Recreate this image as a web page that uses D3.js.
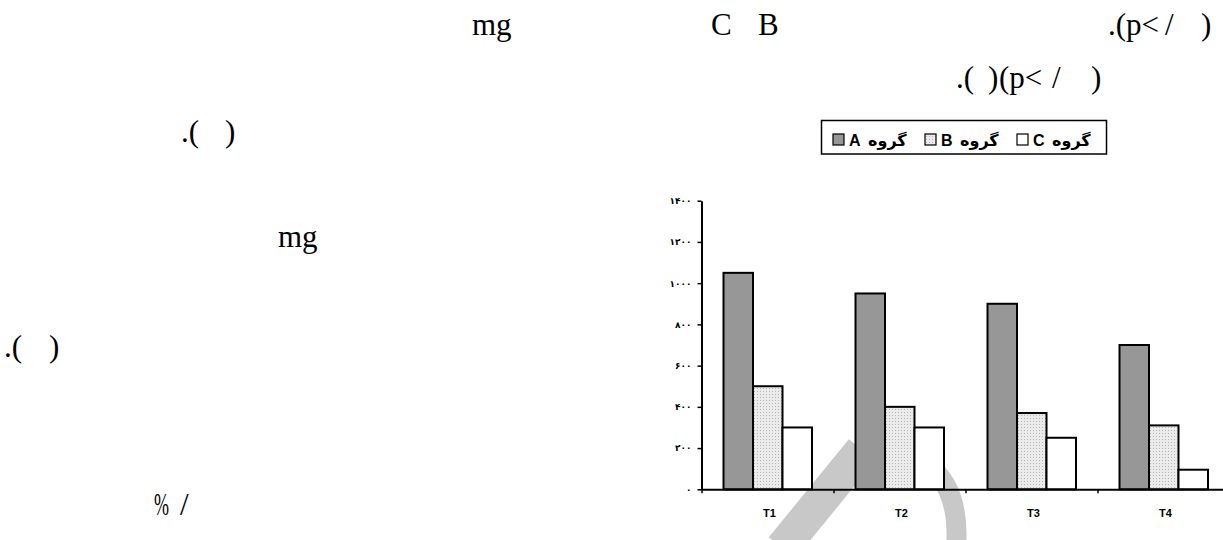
<!DOCTYPE html>
<html lang="fa">
<head>
  <meta charset="UTF-8">
  <title>گروه A / B / C - T1..T4</title>
  <script src="https://d3js.org/d3.v7.min.js"></script>
  <style>
    body { margin: 0; background: #fff; overflow: hidden; }
    .page { font-family: "Liberation Serif", "Times New Roman", serif; font-size: 31px; fill: #000; white-space: pre; }
  </style>
</head>
<body>
  <div id="chart"></div>

  <script>
    // Chart data
    const categories = ["T1", "T2", "T3", "T4"];
    const seriesNames = ["گروه A", "گروه B", "گروه C"];
    const groupA = [1050, 950, 900, 700];
    const groupB = [500, 400, 370, 310];
    const groupC = [300, 300, 250, 95];
    const yTicks = [0, 200, 400, 600, 800, 1000, 1200, 1400];
    const yTickLabels = ["۰", "۲۰۰", "۴۰۰", "۶۰۰", "۸۰۰", "۱۰۰۰", "۱۲۰۰", "۱۴۰۰"];

    const series = [groupA, groupB, groupC];
    const fills = ["#979797", "url(#dots)", "#ffffff"];

    const svg = d3.select("#chart").append("svg")
      .attr("width", 1223)
      .attr("height", 540);

    // dotted fill for group B
    const pat = svg.append("defs").append("pattern")
      .attr("id", "dots")
      .attr("width", 3).attr("height", 3)
      .attr("patternUnits", "userSpaceOnUse");
    pat.append("rect").attr("width", 3).attr("height", 3).attr("fill", "#ebebeb");
    pat.append("rect").attr("x", 1).attr("y", 1).attr("width", 1).attr("height", 1).attr("fill", "#b5b5b5");

    // --- surrounding page text (the scan) ---
    const pageText = [
      ["mg", 472, 35], ["C", 711, 35], ["B", 758, 35],
      [".(p<", 1108, 35], ["/", 1165, 35], [")", 1201, 35],
      [".(", 956, 88], [")", 988, 88], ["(p<", 999, 88], ["/", 1052, 88], [")", 1091, 88],
      [".(", 181, 142], [")", 225, 142],
      ["mg", 278, 247],
      [".(", 4, 357], [")", 49, 357],
      ["/", 180, 515]
    ];
    const pg = svg.append("g");
    pg.selectAll("text")
      .data(pageText)
      .join("text")
      .attr("class", "page")
      .attr("x", (d) => d[1])
      .attr("y", (d) => d[2])
      .text((d) => d[0]);
    // the percent sign is set narrow in the scan
    pg.append("text")
      .attr("class", "page")
      .attr("x", 154).attr("y", 515)
      .attr("textLength", 15)
      .attr("lengthAdjust", "spacingAndGlyphs")
      .text("%");

    // --- watermark, light grey, behind the chart ---
    const wm = svg.append("g").attr("fill", "none").attr("stroke", "#c8c8c8");
    wm.append("line")
      .attr("x1", 782).attr("y1", 548).attr("x2", 862).attr("y2", 450)
      .attr("stroke-width", 34);
    const arcPath = d3.path();
    arcPath.moveTo(902, 452);
    arcPath.quadraticCurveTo(962, 470, 956, 548);
    wm.append("path").attr("d", arcPath.toString()).attr("stroke-width", 20);

    // --- scales ---
    const x0 = 701.5, step = 132;
    const x = d3.scaleBand()
      .domain(categories)
      .range([x0, x0 + step * categories.length]);
    const xSub = d3.scaleBand()
      .domain(d3.range(series.length))
      .range([22, 22 + 88.5]);
    const y = d3.scaleLinear()
      .domain([0, 1400])
      .range([489.3, 200.7]);

    // --- bars ---
    const barG = svg.append("g");
    series.forEach((vals, s) => {
      barG.append("g").selectAll("rect")
        .data(vals)
        .join("rect")
        .attr("x", (d, i) => x(categories[i]) + xSub(s))
        .attr("y", (d) => y(d))
        .attr("width", xSub.bandwidth())
        .attr("height", (d) => y(0) - y(d))
        .attr("fill", fills[s])
        .attr("stroke", "#000")
        .attr("stroke-width", 2);
    });

    // --- y axis ---
    const yAxis = svg.append("g")
      .attr("transform", `translate(${x0},0)`)
      .call(d3.axisLeft(y)
        .tickValues(yTicks)
        .tickFormat((d, i) => yTickLabels[i])
        .tickSize(4)
        .tickSizeOuter(0)
        .tickPadding(6));
    yAxis.select(".domain").attr("stroke-width", 2);
    yAxis.selectAll(".tick line").attr("stroke-width", 1.5);
    yAxis.selectAll(".tick text")
      .attr("font-family", "'DejaVu Sans', sans-serif")
      .attr("font-weight", "bold")
      .attr("font-size", 9);

    // --- x axis: boundary ticks + category labels ---
    const xEdge = d3.scaleLinear().domain([0, categories.length]).range(x.range());
    const xAxis = svg.append("g")
      .attr("transform", `translate(0,${y(0)})`)
      .call(d3.axisBottom(xEdge).ticks(categories.length).tickSize(4).tickSizeOuter(0).tickFormat(""));
    xAxis.select(".domain").attr("stroke-width", 2);
    xAxis.selectAll(".tick line").attr("stroke-width", 1.5);

    const xLabels = svg.append("g")
      .attr("transform", `translate(2,${y(0)})`)
      .call(d3.axisBottom(x).tickSize(0).tickPadding(20));
    xLabels.select(".domain").remove();
    xLabels.selectAll(".tick text")
      .attr("font-family", "'Liberation Sans', Arial, sans-serif")
      .attr("font-weight", "bold")
      .attr("font-size", 11)
      .attr("fill", "#000");

    // --- legend ---
    const legend = svg.append("g");
    legend.append("rect")
      .attr("x", 821.5).attr("y", 120.5)
      .attr("width", 285).attr("height", 33.5)
      .attr("fill", "#fff")
      .attr("stroke", "#000")
      .attr("stroke-width", 1.5);

    const entry = legend.selectAll("g.entry")
      .data(seriesNames)
      .join("g")
      .attr("class", "entry")
      .attr("transform", (d, i) => `translate(${833 + i * 92},0)`);
    entry.append("rect")
      .attr("x", 0).attr("y", 134)
      .attr("width", 11).attr("height", 11)
      .attr("fill", (d, i) => fills[i])
      .attr("stroke", "#000")
      .attr("stroke-width", 1.2);
    entry.append("text")
      .attr("x", 16).attr("y", 145.5)
      .attr("font-family", "'Liberation Sans', Arial, sans-serif")
      .attr("font-weight", "bold")
      .attr("font-size", 16)
      .text((d) => d.split(" ")[1]);
    entry.append("text")
      .attr("x", 35).attr("y", 145.5)
      .attr("font-family", "'DejaVu Sans', sans-serif")
      .attr("font-weight", "bold")
      .attr("font-size", 16)
      .text((d) => d.split(" ")[0]);
  </script>
</body>
</html>
